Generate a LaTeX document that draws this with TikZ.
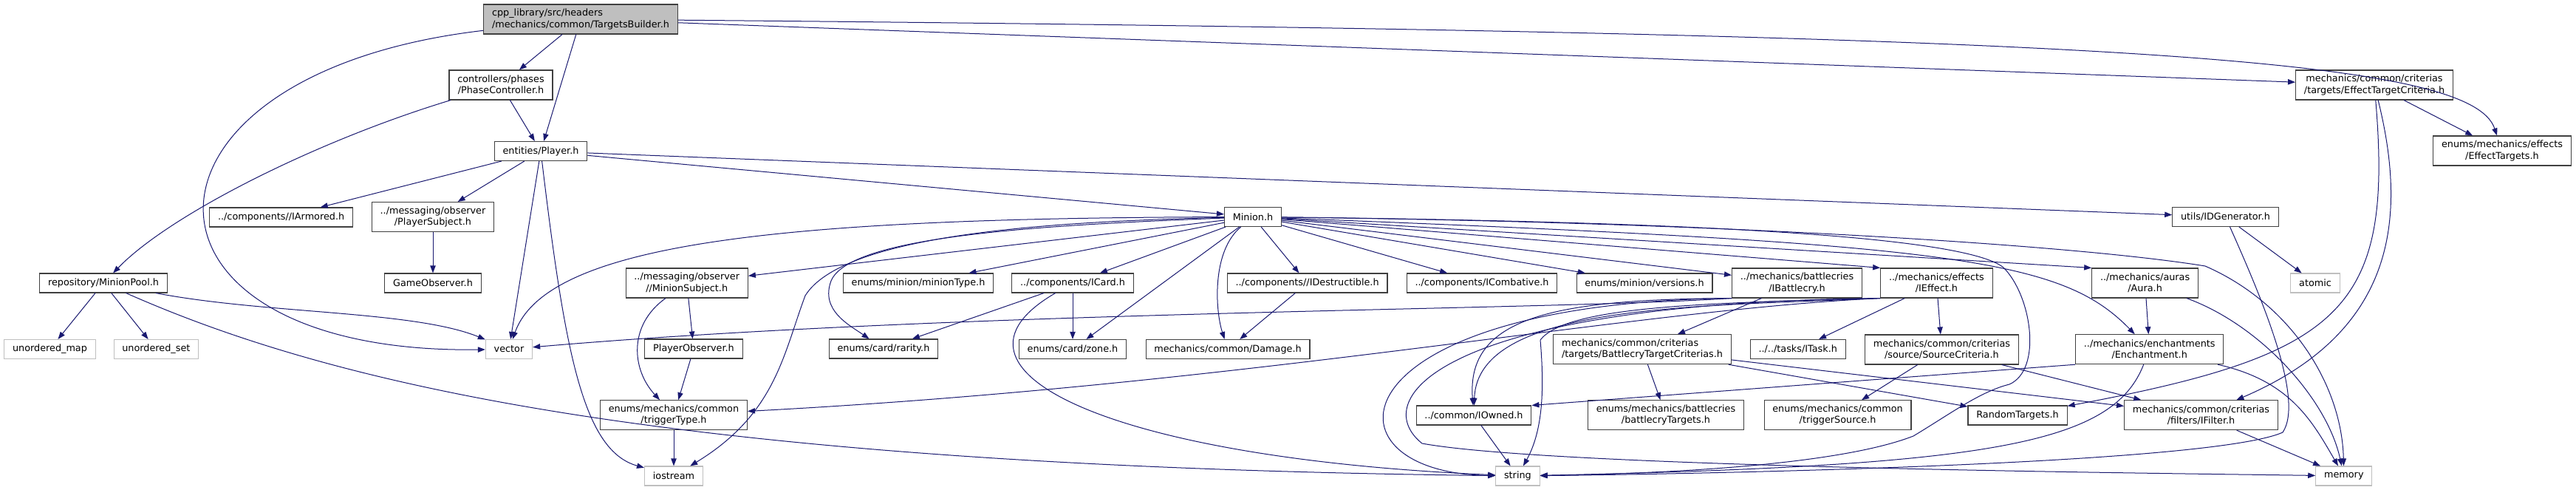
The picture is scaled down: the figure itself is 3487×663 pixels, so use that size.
\documentclass[tikz,border=0pt]{standalone}
\usepackage{fontspec}
\setmainfont{DejaVu Sans}
\usepackage{tikz}
\usetikzlibrary{arrows.meta}
\definecolor{doxblue}{HTML}{191970}
\definecolor{doxgrey}{HTML}{404040}
\definecolor{doxlight}{HTML}{BFBFBF}
\tikzset{
  >={Triangle[length=7.5pt,width=5.5pt]},
  % boxes
  hd/.style={rectangle,draw=doxgrey,fill=white,line width=0.8pt,inner xsep=8.5pt,
             inner ysep=3pt,minimum height=19.5pt,align=center,
             font=\fontsize{9.6}{11.3}\selectfont},
  dbl/.style={minimum height=30pt},
  sys/.style={hd,draw=doxlight},
  rootbox/.style={hd,dbl,fill=doxlight,align=left},
  % edges
  dep/.style={->,draw=doxblue,line width=0.75pt},
}

\begin{document}
\begin{tikzpicture}[x=0.75pt,y=-0.75pt]
  \useasboundingbox (0,0) rectangle (3487,663);
  \fill[white] (0,0) rectangle (3487,663);
  % rank 0-3
  \node[rootbox] (tb) at (786,26) {cpp\_library/src/headers\\/mechanics/common/TargetsBuilder.h};
  \node[hd,dbl] (phase) at (678,115) {controllers/phases\\/PhaseController.h};
  \node[hd,dbl] (etc) at (3214,115) {mechanics/common/criterias\\/targets/EffectTargetCriteria.h};
  \node[hd] (player) at (732,204.5) {entities/Player.h};
  \node[hd,dbl] (efftg) at (3387,204) {enums/mechanics/effects\\/EffectTargets.h};
  \node[hd] (armored) at (380.6,294) {../components//IArmored.h};
  \node[hd,dbl] (psubj) at (586,293.5) {../messaging/observer\\/PlayerSubject.h};
  \node[hd] (minion) at (1696,293.5) {Minion.h};
  \node[hd] (idgen) at (3012.5,293.5) {utils/IDGenerator.h};
  % rank 4
  \node[hd] (pool) at (140,383) {repository/MinionPool.h};
  \node[hd] (gameobs) at (586,383) {GameObserver.h};
  \node[hd,dbl] (msubj) at (929.7,383) {../messaging/observer\\//MinionSubject.h};
  \node[hd] (mtype) at (1243,383) {enums/minion/minionType.h};
  \node[hd] (icard) at (1452,383) {../components/ICard.h};
  \node[hd] (idestr) at (1769.6,383) {../components//IDestructible.h};
  \node[hd] (icomb) at (2006,383) {../components/ICombative.h};
  \node[hd] (versions) at (2226,383) {enums/minion/versions.h};
  \node[hd,dbl] (ibattle) at (2432.5,383) {../mechanics/battlecries\\/IBattlecry.h};
  \node[hd,dbl] (ieffect) at (2621.4,383) {../mechanics/effects\\/IEffect.h};
  \node[hd,dbl] (aura) at (2903.6,383) {../mechanics/auras\\/Aura.h};
  \node[sys] (atomic) at (3134,383) {atomic};
  % rank 5
  \node[sys] (umap) at (67.5,472.5) {unordered\_map};
  \node[sys] (uset) at (211.4,472.5) {unordered\_set};
  \node[sys] (vector) at (689,472.5) {vector};
  \node[hd] (pobs) at (939,472) {PlayerObserver.h};
  \node[hd] (rarity) at (1196,472) {enums/card/rarity.h};
  \node[hd] (zone) at (1452,472.5) {enums/card/zone.h};
  \node[hd] (damage) at (1662,472.5) {mechanics/common/Damage.h};
  \node[hd,dbl,align=left] (btc) at (2223,472.7) {mechanics/common/criterias\\/targets/BattlecryTargetCriterias.h};
  \node[hd] (itask) at (2433.7,472.5) {../../tasks/ITask.h};
  \node[hd,dbl] (srccrit) at (2628.4,473) {mechanics/common/criterias\\/source/SourceCriteria.h};
  \node[hd,dbl] (enchant) at (2909.7,472.7) {../mechanics/enchantments\\/Enchantment.h};
  % rank 6-7
  \node[hd,dbl] (trigtype) at (912,561.7) {enums/mechanics/common\\/triggerType.h};
  \node[hd] (iowned) at (1995,562) {../common/IOwned.h};
  \node[hd,dbl] (bctargets) at (2255,561.7) {enums/mechanics/battlecries\\/battlecryTargets.h};
  \node[hd,dbl] (trigsrc) at (2487.5,561.7) {enums/mechanics/common\\/triggerSource.h};
  \node[hd] (randtg) at (2731,562) {RandomTargets.h};
  \node[hd,dbl] (ifilter) at (2979.5,561.7) {mechanics/common/criterias\\/filters/IFilter.h};
  \node[sys] (iostream) at (912,644) {iostream};
  \node[sys] (string) at (2054.4,644) {string};
  \node[sys] (memory) at (3172.8,644) {memory};

  % TargetsBuilder, PhaseController
  \draw[dep] (tb) -- (phase);
  \draw[dep] (tb) -- (player);
  \draw[dep] (tb) -- (etc);
  \draw[dep] (tb) .. controls (2900,45) and (3345,80) .. (efftg);
  \draw[dep] (tb) .. controls (150,100) and (150,480) .. (vector);
  \draw[dep] (phase) -- (player);
  \draw[dep] (phase) .. controls (430,190) and (230,290) .. (pool);
  % Player
  \draw[dep] (player) -- (armored);
  \draw[dep] (player) -- (psubj);
  \draw[dep] (player) -- (minion);
  \draw[dep] (player) -- (idgen);
  \draw[dep] (player) -- (vector);
  \draw[dep] (player) .. controls (765,480) and (790,610) .. (iostream);
  \draw[dep] (psubj) -- (gameobs);
  % MinionPool
  \draw[dep] (pool) -- (umap);
  \draw[dep] (pool) -- (uset);
  \draw[dep] (pool) .. controls (360,425) and (560,420) .. (vector);
  \draw[dep] (pool) .. controls (450,520) and (900,630) .. (string);
  % observers
  \draw[dep] (msubj) -- (pobs);
  \draw[dep] (msubj) .. controls (850,440) and (855,500) .. (trigtype);
  \draw[dep] (pobs) -- (trigtype);
  \draw[dep] (trigtype) -- (iostream);
  % Minion
  \draw[dep] (minion) .. controls (1050,295) and (740,330) .. (vector);
  \draw[dep] (minion) .. controls (1400,300) and (1140,320) .. (1090,400)
    .. controls (1060,480) and (1050,560) .. (iostream);
  \draw[dep] (minion) -- (msubj);
  \draw[dep] (minion) .. controls (1400,305) and (1150,320) .. (1125,380)
    .. controls (1110,420) and (1150,440) .. (rarity);
  \draw[dep] (minion) -- (mtype);
  \draw[dep] (minion) -- (icard);
  \draw[dep] (minion) -- (zone);
  \draw[dep] (minion) .. controls (1640,340) and (1645,420) .. (damage);
  \draw[dep] (minion) -- (idestr);
  \draw[dep] (minion) -- (icomb);
  \draw[dep] (minion) -- (versions);
  \draw[dep] (minion) -- (ibattle);
  \draw[dep] (minion) -- (ieffect.north west);
  \draw[dep] (minion) -- (aura.north west);
  \draw[dep] (minion) .. controls (2650,330) and (2790,350) .. (enchant);
  \draw[dep] (minion) .. controls (2300,300) and (2800,330) .. (2985,360)
    .. controls (3100,410) and (3170,520) .. (memory);
  \draw[dep] (minion) .. controls (2300,300) and (2660,320) .. (2712,362)
    .. controls (2750,400) and (2765,500) .. (2720,520)
    .. controls (2680,530) and (2640,560) .. (2590,590)
    .. controls (2500,625) and (2300,640) .. (string);
  % components
  \draw[dep] (icard) -- (rarity);
  \draw[dep] (icard) -- (zone);
  \draw[dep] (icard) .. controls (1250,500) and (1500,620) .. (string);
  \draw[dep] (idestr) -- (damage);
  % battlecries, effects
  \draw[dep] (ibattle) -- (btc);
  \draw[dep] (ibattle.south west) .. controls (2100,420) and (1300,420) .. (vector);
  \draw[dep] (ibattle.south west) .. controls (2100,405) and (1985,430) .. (iowned);
  \draw[dep] (ibattle.south west) .. controls (1800,410) and (1780,640) .. (string);
  \draw[dep] (ieffect) -- (itask);
  \draw[dep] (ieffect) -- (srccrit);
  \draw[dep] (ieffect.south west) .. controls (2200,420) and (1700,520) .. (trigtype);
  \draw[dep] (ieffect.south west) .. controls (2300,415) and (2000,410) .. (iowned);
  \draw[dep] (ieffect.south west) .. controls (2300,410) and (2120,415) .. (2085,460)
    .. controls (2090,520) and (2090,580) .. (string);
  \draw[dep] (ieffect.south west) .. controls (1950,410) and (1850,540) .. (1925,600)
    .. controls (2100,632) and (2900,640) .. (memory);
  % criterias
  \draw[dep] (btc) -- (bctargets);
  \draw[dep] (btc) -- (randtg);
  \draw[dep] (btc) -- (ifilter);
  \draw[dep] (srccrit) -- (trigsrc);
  \draw[dep] (srccrit) -- (ifilter);
  \draw[dep] (etc) -- (efftg);
  \draw[dep] (etc) .. controls (3240,420) and (3170,480) .. (randtg);
  \draw[dep] (etc) .. controls (3260,300) and (3240,450) .. (ifilter);
  % auras, enchantments
  \draw[dep] (aura) -- (enchant);
  \draw[dep] (aura) .. controls (3060,440) and (3150,540) .. (memory);
  \draw[dep] (enchant.south west) -- (iowned.north east);
  \draw[dep] (enchant) .. controls (2860,600) and (2700,630) .. (string);
  \draw[dep] (enchant) .. controls (3100,515) and (3130,570) .. (memory);
  \draw[dep] (ifilter) -- (memory);
  % utils
  \draw[dep] (idgen) -- (atomic);
  \draw[dep] (idgen) .. controls (3060,400) and (3120,540) .. (3090,585)
    .. controls (3000,625) and (2400,640) .. (string);
  \draw[dep] (iowned) -- (string);
\end{tikzpicture}
\end{document}
